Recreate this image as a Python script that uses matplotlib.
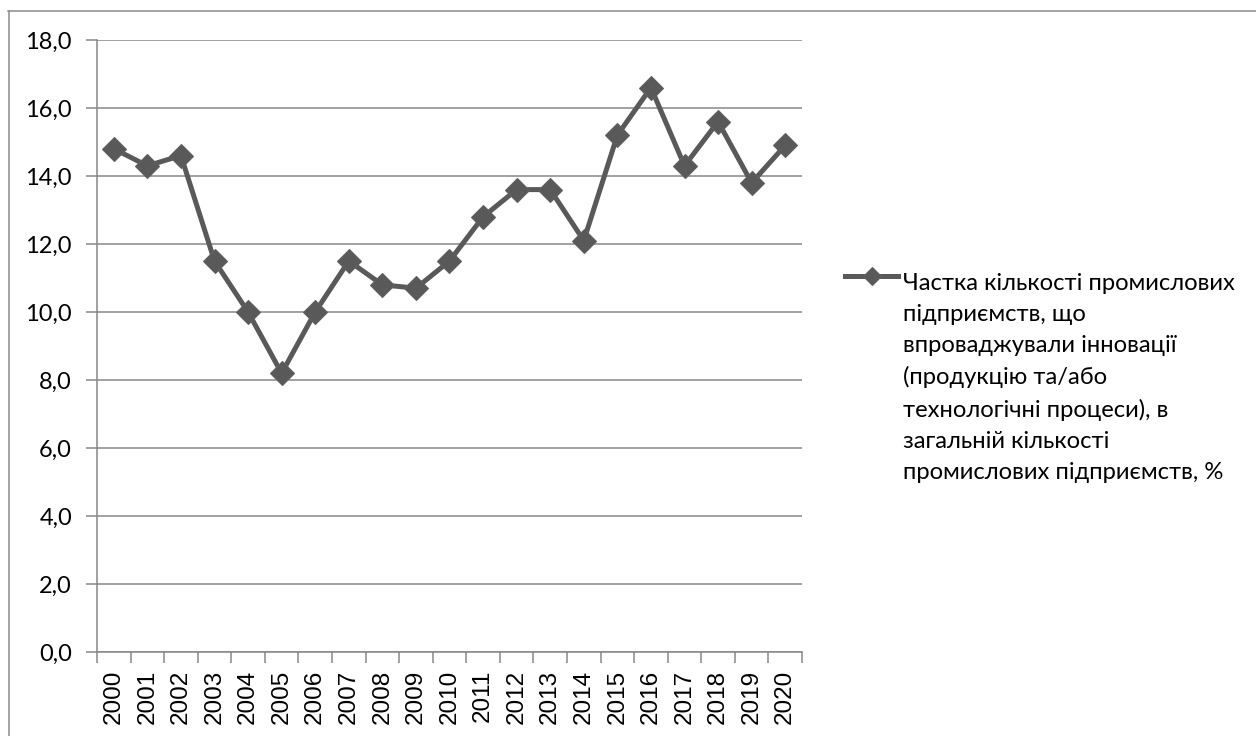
import numpy as np
import matplotlib.pyplot as plt
from matplotlib.lines import Line2D
from matplotlib.ticker import FixedLocator, FuncFormatter

# частка інноваційних промислових підприємств, %
years = ["2000", "2001", "2002", "2003", "2004", "2005", "2006", "2007",
         "2008", "2009", "2010", "2011", "2012", "2013", "2014", "2015",
         "2016", "2017", "2018", "2019", "2020"]
share = [14.8, 14.3, 14.6, 11.5, 10.0, 8.2, 10.0, 11.5, 10.8, 10.7, 11.5,
         12.8, 13.6, 13.6, 12.1, 15.2, 16.6, 14.3, 15.6, 13.8, 14.9]
y_ticks = [0, 2, 4, 6, 8, 10, 12, 14, 16, 18]
series_label = ("Частка кількості промислових\n"
                "підприємств, що\n"
                "впроваджували інновації\n"
                "(продукцію та/або\n"
                "технологічні процеси), в\n"
                "загальній кількості\n"
                "промислових підприємств, %")

W, H = 1256, 736
axis_grey = "#878787"
line_grey = "#595959"

fig = plt.figure(figsize=(W / 100, H / 100), dpi=100)
fig.patch.set_facecolor("white")

# chart area frame (only top and left edges fall inside the image)
fig.add_artist(Line2D([8 / W, 1], [1 - 10.5 / H, 1 - 10.5 / H],
                      transform=fig.transFigure, color="#8c8c8c", lw=1.1))
fig.add_artist(Line2D([8.5 / W, 8.5 / W], [0, 1 - 10.5 / H],
                      transform=fig.transFigure, color="#8c8c8c", lw=1.1))

ax = fig.add_axes([97 / W, 1 - 652 / H, (802 - 97) / W, (652 - 40) / H])

x = np.arange(len(years))
ax.plot(x, share, color=line_grey, lw=3.6, marker="D", ms=12,
        mec="#606060", mew=0.8, zorder=3, clip_on=False)

ax.set_xlim(-0.5, len(years) - 0.5)
ax.set_ylim(0, 18)

# y axis: gridlines at every 2 units, comma as decimal separator
ax.set_yticks(y_ticks)
ax.yaxis.set_major_formatter(FuncFormatter(lambda v, p: f"{v:.1f}".replace(".", ",")))
ax.grid(axis="y", color=axis_grey, lw=1.1, zorder=1)
ax.tick_params(axis="y", length=8, width=1.1, color=axis_grey, pad=10,
               labelsize=17, labelfontfamily="Lato")

# x axis: tick marks between categories, labels at category centres
ax.xaxis.set_major_locator(FixedLocator(np.arange(-0.5, len(years), 1.0)))
ax.xaxis.set_major_formatter(FuncFormatter(lambda v, p: ""))
ax.xaxis.set_minor_locator(FixedLocator(x))
ax.set_xticklabels(years, minor=True, rotation=90)
ax.tick_params(axis="x", which="major", length=8, width=1.1, color=axis_grey)
ax.tick_params(axis="x", which="minor", length=0, pad=13,
               labelsize=17.5, labelfontfamily="Liberation Sans")

for side in ("top", "right"):
    ax.spines[side].set_visible(False)
for side in ("left", "bottom"):
    ax.spines[side].set_color(axis_grey)
    ax.spines[side].set_linewidth(1.1)
ax.set_axisbelow(True)

# legend to the right of the plot area
fig.add_artist(Line2D([845 / W, 898 / W], [1 - 276 / H, 1 - 276 / H],
                      transform=fig.transFigure, color=line_grey, lw=3.6))
fig.add_artist(Line2D([871.5 / W], [1 - 276 / H], transform=fig.transFigure,
                      color=line_grey, marker="D", ms=9, mec="#606060", mew=0.8))
fig.text(903 / W, 1 - 273 / H, series_label, ha="left", va="top",
         fontsize=17.1, family="Lato", linespacing=1.58, color="black")

fig.savefig("out.png", dpi=100, facecolor="white")
